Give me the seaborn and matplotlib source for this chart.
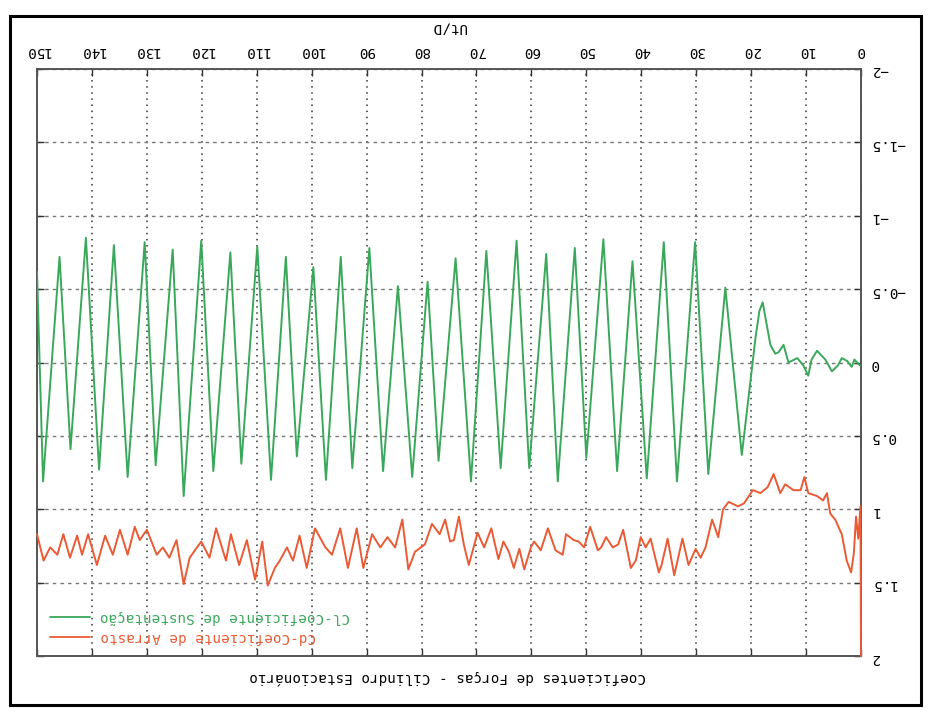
import matplotlib
matplotlib.use("Agg")
import matplotlib.pyplot as plt
from matplotlib.patches import Rectangle
from matplotlib.lines import Line2D
import numpy as np
import pandas as pd
import seaborn as sns

# ---- data ----
cl_t = [0.2, 1.2, 1.7, 2.5, 3.5, 4.2, 5.3, 6.5, 8.0, 9.0, 9.6, 10.5, 11.6, 13.2, 14.1, 15.0,
        15.6, 16.5, 17.9, 18.5, 19.2,
        21.7, 24.7, 27.8, 30.2, 33.5, 35.9, 39.0, 41.6, 44.4, 46.9, 50.0, 52.1, 55.2, 57.3,
        60.4, 62.7, 65.6, 68.2, 71.0, 73.8, 76.9, 78.9, 81.7, 84.3, 87.0, 89.5, 92.6, 94.7,
        97.4, 99.7, 102.7, 104.7, 107.4, 109.9, 112.8, 114.8, 117.9, 120.1, 123.3, 125.3,
        128.4, 130.4, 133.5, 136.0, 138.7, 141.1, 143.9, 145.9, 148.9, 150.0]
cl_v = [0.02, -0.02, 0.03, -0.01, -0.03, 0.02, 0.06, -0.02, -0.08, -0.02, 0.09, 0.02, -0.03,
        0.00, -0.12, -0.07, -0.06, -0.12, -0.41, -0.35, -0.17,
        0.63, -0.51, 0.76, -0.82, 0.81, -0.82, 0.79, -0.69, 0.74, -0.84, 0.65, -0.78, 0.81, -0.74,
        0.72, -0.83, 0.72, -0.76, 0.81, -0.71, 0.67, -0.55, 0.78, -0.52, 0.74, -0.78, 0.72, -0.72,
        0.80, -0.65, 0.64, -0.72, 0.80, -0.79, 0.69, -0.75, 0.74, -0.83, 0.91, -0.77,
        0.70, -0.82, 0.78, -0.80, 0.73, -0.85, 0.59, -0.72, 0.81, -0.62]

cd_t = [0.0, 0.1, 0.5, 0.9, 1.3, 1.8, 2.6, 3.5, 4.7, 5.6, 6.2, 6.9, 8.0, 9.6, 10.3, 11.0,
        12.3, 13.8, 14.7, 15.9, 17.0, 18.3, 19.7, 21.3, 22.4, 24.1, 25.1, 26.0, 27.1, 28.3,
        29.2, 30.1, 31.4, 32.5, 34.0, 35.2, 36.3, 36.8, 38.3, 39.2, 40.1, 41.0, 41.9, 43.3,
        44.2, 45.2, 46.4, 47.3, 47.9, 49.3, 50.4, 51.4, 52.3, 53.7, 54.3, 55.6, 57.0, 58.3,
        59.5, 60.1, 61.3, 62.2, 63.2, 64.1, 65.1, 66.0, 67.3, 68.6, 69.8, 71.4, 72.3, 73.2,
        74.1, 74.8, 75.7, 76.7, 78.1, 79.4, 81.2, 82.4, 83.5, 84.8, 86.2, 87.5, 89.0, 90.6,
        91.8, 93.4, 94.8, 96.3, 97.5, 99.4, 100.9, 102.2, 103.4, 104.5, 105.8, 106.7, 108.0,
        109.0, 110.3, 111.8, 113.2, 114.7, 115.6, 117.4, 118.6, 120.1, 122.2, 123.3, 124.6,
        125.9, 127.1, 128.2, 130.0, 131.3, 132.2, 133.5, 134.9, 136.2, 137.6, 139.1, 140.7,
        141.8, 142.7, 144.0, 145.2, 146.3, 147.6, 148.8, 150.0]
cd_v = [2.00, 0.98, 1.20, 1.05, 1.30, 1.43, 1.35, 1.17, 1.07, 1.03, 0.89, 0.94, 0.91, 0.89,
        0.78, 0.87, 0.87, 0.83, 0.89, 0.76, 0.85, 0.89, 0.87, 0.96, 0.98, 0.95, 1.00, 1.19,
        1.07, 1.26, 1.33, 1.27, 1.38, 1.20, 1.45, 1.20, 1.38, 1.43, 1.20, 1.26, 1.19, 1.35,
        1.40, 1.14, 1.24, 1.26, 1.19, 1.26, 1.28, 1.12, 1.26, 1.22, 1.21, 1.17, 1.31, 1.28,
        1.13, 1.28, 1.22, 1.26, 1.41, 1.27, 1.40, 1.29, 1.22, 1.34, 1.13, 1.26, 1.16, 1.38,
        1.24, 1.05, 1.21, 1.22, 1.07, 1.17, 1.10, 1.24, 1.29, 1.41, 1.07, 1.26, 1.19, 1.26,
        1.17, 1.40, 1.13, 1.40, 1.13, 1.31, 1.26, 1.13, 1.40, 1.18, 1.35, 1.26, 1.35, 1.40,
        1.52, 1.22, 1.48, 1.21, 1.38, 1.17, 1.35, 1.13, 1.33, 1.22, 1.33, 1.51, 1.21, 1.33,
        1.26, 1.31, 1.14, 1.21, 1.12, 1.31, 1.14, 1.31, 1.18, 1.38, 1.17, 1.31, 1.18, 1.33,
        1.17, 1.31, 1.26, 1.35, 1.17]

x_ticks = [0, 10, 20, 30, 40, 50, 60, 70, 80, 90, 100, 110, 120, 130, 140, 150]
y_ticks = [-2, -1.5, -1, -0.5, 0, 0.5, 1, 1.5, 2]
y_tick_labels = ["\u22122", "\u22121.5", "\u22121", "\u22120.5", "0", "0.5", "1", "1.5", "2"]
title = "Coeficientes de Forças - Cilindro Estacionário"
xlabel = "Ut/D"
cl_label = "Cl-Coeficiente de Sustentação"
cd_label = "Cd-Coeficiente de Arrasto"

GREEN = "#3aa85a"
ORANGE = "#ea5a35"

sns.set_theme(style="white")
plt.rcParams["font.family"] = ["DejaVu Sans Mono", "DejaVu Sans"]
FS = 10.3

W, H = 931, 708
fig = plt.figure(figsize=(W / 100, H / 100), dpi=100)
fig.patch.set_facecolor("white")
L, R, T, B = 37, 861, 69, 656
ax = fig.add_axes([L / W, 1 - B / H, (R - L) / W, (B - T) / H])
ax.set_facecolor("white")

df_cl = pd.DataFrame({"t": cl_t, "v": cl_v})
df_cd = pd.DataFrame({"t": cd_t, "v": cd_v})
sns.lineplot(data=df_cl, x="t", y="v", ax=ax, color=GREEN, lw=1.4, sort=False,
             estimator=None, legend=False, zorder=3)
sns.lineplot(data=df_cd, x="t", y="v", ax=ax, color=ORANGE, lw=1.4, sort=False,
             estimator=None, legend=False, zorder=3, clip_on=False)

ax.set_xlim(150, 0)
ax.set_ylim(2, -2)
ax.set_xticks(x_ticks)
ax.set_xticklabels([str(v) for v in x_ticks])
ax.set_yticks(y_ticks)
ax.set_yticklabels(y_tick_labels)
ax.set_xlabel("")
ax.set_ylabel("")
ax.xaxis.tick_top()
ax.yaxis.tick_right()
ax.tick_params(axis="both", direction="in", length=5, width=1, color="#333",
               top=True, bottom=True, left=True, right=True,
               labeltop=True, labelbottom=False, labelleft=False, labelright=True,
               labelsize=FS, labelrotation=180, labelcolor="black")
ax.tick_params(axis="x", pad=8)
ax.tick_params(axis="y", pad=7)
ax.xaxis.grid(True, color="#333333", linestyle=(0, (1, 3)), lw=1.1)
ax.yaxis.grid(True, color="#777777", linestyle=(0, (2.5, 3)), lw=1.0)
for s in ax.spines.values():
    s.set_color("#555555")
    s.set_linewidth(1.4)

# axis label and title (upside-down like the scan)
fig.text(449 / W, 1 - 28 / H, xlabel, rotation=180, ha="center", va="center",
         fontsize=FS, color="black")
fig.text(448 / W, 1 - 677 / H, title, rotation=180, ha="center", va="center",
         fontsize=FS, color="black")

# legend (rotated)
for yy, lab, col in [(617, cl_label, GREEN), (637, cd_label, ORANGE)]:
    fig.add_artist(Line2D([50 / W, 90 / W], [1 - yy / H, 1 - yy / H],
                          transform=fig.transFigure, color=col, lw=1.3))
    fig.text(100 / W, 1 - yy / H, lab, rotation=180, ha="left", va="center",
             fontsize=FS, color=col)

# outer border of the scanned page
fig.add_artist(Rectangle((10 / W, 1 - 705 / H), 911 / W, 689 / H,
                         transform=fig.transFigure, fill=False, lw=2.2,
                         edgecolor="black"))

fig.savefig("out.png", dpi=100, facecolor="white")
